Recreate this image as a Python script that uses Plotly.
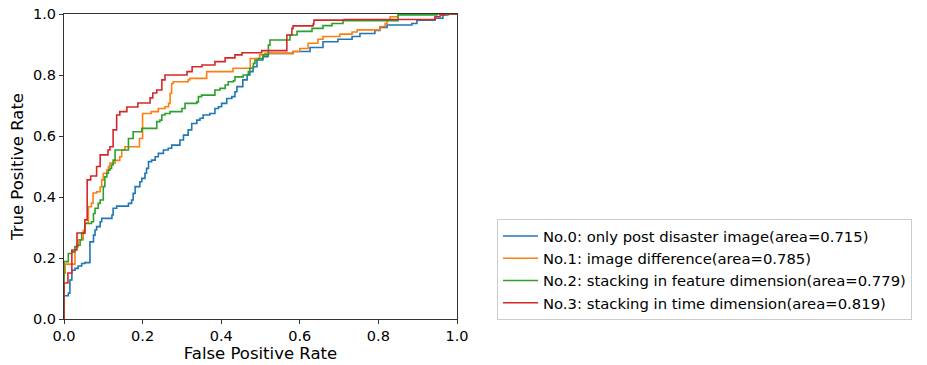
import plotly.graph_objects as go

# ROC curve points (step curves)
names = [
    "No.0: only post disaster image(area=0.715)",
    "No.1: image difference(area=0.785)",
    "No.2: stacking in feature dimension(area=0.779)",
    "No.3: stacking in time dimension(area=0.819)",
]
colors = ["#1f77b4", "#ff7f0e", "#2ca02c", "#d62728"]

fpr0 = [0, 0, 0.011, 0.015, 0.020, 0.028, 0.036, 0.045, 0.053, 0.066, 0.075, 0.079, 0.083, 0.092, 0.096,
        0.122, 0.125, 0.134, 0.164, 0.172, 0.176, 0.181, 0.193, 0.198, 0.206, 0.210, 0.215, 0.223, 0.232,
        0.240, 0.253, 0.265, 0.274, 0.295, 0.304, 0.316, 0.325, 0.338, 0.346, 0.354, 0.371, 0.384, 0.393,
        0.401, 0.414, 0.427, 0.435, 0.440, 0.455, 0.466, 0.473, 0.481, 0.491, 0.506, 0.519, 0.583, 0.626,
        0.659, 0.697, 0.733, 0.753, 0.791, 0.804, 0.822, 0.885, 0.898, 0.944, 0.964, 0.977, 1.0]
tpr0 = [0, 0.076, 0.085, 0.128, 0.160, 0.166, 0.174, 0.182, 0.185, 0.253, 0.275, 0.292, 0.303, 0.319, 0.330,
        0.341, 0.363, 0.370, 0.379, 0.390, 0.412, 0.434, 0.450, 0.461, 0.478, 0.494, 0.516, 0.521, 0.532,
        0.543, 0.554, 0.560, 0.570, 0.587, 0.603, 0.620, 0.641, 0.652, 0.658, 0.669, 0.674, 0.690, 0.696,
        0.707, 0.723, 0.729, 0.745, 0.762, 0.784, 0.800, 0.811, 0.827, 0.849, 0.860, 0.871, 0.877, 0.890,
        0.909, 0.917, 0.926, 0.936, 0.946, 0.956, 0.964, 0.969, 0.980, 0.986, 0.997, 1.0, 1.0]

fpr1 = [0, 0, 0.003, 0.028, 0.036, 0.049, 0.053, 0.062, 0.070, 0.074, 0.083, 0.092, 0.096, 0.100, 0.109,
        0.113, 0.117, 0.130, 0.142, 0.147, 0.155, 0.192, 0.200, 0.222, 0.240, 0.257, 0.266, 0.270, 0.274,
        0.278, 0.316, 0.320, 0.363, 0.430, 0.474, 0.498, 0.510, 0.583, 0.600, 0.621, 0.646, 0.659, 0.702,
        0.733, 0.746, 0.804, 0.817, 0.822, 0.830, 0.850, 1.0]
tpr1 = [0, 0.150, 0.180, 0.237, 0.260, 0.290, 0.315, 0.368, 0.380, 0.413, 0.417, 0.433, 0.456, 0.478, 0.488,
        0.500, 0.511, 0.520, 0.532, 0.554, 0.565, 0.592, 0.674, 0.680, 0.690, 0.696, 0.707, 0.740, 0.772,
        0.778, 0.784, 0.789, 0.811, 0.822, 0.854, 0.866, 0.871, 0.877, 0.887, 0.904, 0.917, 0.926, 0.934,
        0.941, 0.948, 0.959, 0.969, 0.980, 0.991, 1.0, 1.0]

fpr2 = [0, 0, 0, 0.011, 0.020, 0.028, 0.032, 0.041, 0.045, 0.053, 0.070, 0.075, 0.079, 0.087, 0.092, 0.100,
        0.104, 0.109, 0.113, 0.117, 0.121, 0.125, 0.130, 0.164, 0.176, 0.198, 0.236, 0.244, 0.249, 0.257,
        0.270, 0.300, 0.308, 0.338, 0.342, 0.350, 0.384, 0.397, 0.410, 0.418, 0.431, 0.435, 0.456, 0.469,
        0.473, 0.482, 0.486, 0.494, 0.507, 0.520, 0.524, 0.575, 0.593, 0.631, 0.659, 0.682, 0.710, 0.850,
        0.949, 1.0]
tpr2 = [0, 0.117, 0.188, 0.215, 0.220, 0.237, 0.242, 0.259, 0.281, 0.313, 0.319, 0.346, 0.363, 0.379, 0.390,
        0.434, 0.466, 0.478, 0.488, 0.494, 0.505, 0.521, 0.554, 0.592, 0.614, 0.625, 0.647, 0.652, 0.669,
        0.674, 0.680, 0.690, 0.707, 0.712, 0.729, 0.734, 0.751, 0.756, 0.767, 0.778, 0.781, 0.794, 0.800,
        0.811, 0.822, 0.838, 0.849, 0.854, 0.866, 0.898, 0.915, 0.931, 0.943, 0.953, 0.962, 0.969, 0.978,
        0.997, 1.0, 1.0]

fpr3 = [0, 0, 0, 0.010, 0.020, 0.033, 0.053, 0.059, 0.068, 0.083, 0.092, 0.112, 0.117, 0.125, 0.134, 0.142,
        0.160, 0.188, 0.219, 0.226, 0.236, 0.249, 0.257, 0.313, 0.326, 0.351, 0.384, 0.410, 0.435, 0.453,
        0.503, 0.567, 0.580, 0.583, 0.634, 0.636, 0.713, 0.944, 0.957, 0.969, 1.0]
tpr3 = [0, 0.040, 0.118, 0.151, 0.226, 0.282, 0.325, 0.456, 0.469, 0.500, 0.538, 0.554, 0.565, 0.620, 0.669,
        0.680, 0.695, 0.708, 0.725, 0.741, 0.751, 0.784, 0.800, 0.811, 0.827, 0.833, 0.844, 0.856, 0.866,
        0.873, 0.880, 0.931, 0.953, 0.961, 0.967, 0.980, 0.982, 0.991, 0.997, 1.0, 1.0]

fprs = [fpr0, fpr1, fpr2, fpr3]
tprs = [tpr0, tpr1, tpr2, tpr3]

tick_vals = [0.0, 0.2, 0.4, 0.6, 0.8, 1.0]
tick_text = ["0.0", "0.2", "0.4", "0.6", "0.8", "1.0"]

FONT = "DejaVu Sans"

fig = go.Figure()
for f, t, n, c in zip(fprs, tprs, names, colors):
    fig.add_trace(go.Scatter(x=f, y=t, mode="lines", name=n,
                             line=dict(color=c, width=1.6, shape="hv")))

axis_common = dict(
    range=[0, 1], showgrid=False, zeroline=False, showline=True, mirror=True,
    linecolor="#333333", linewidth=1, ticks="outside", ticklen=4, tickwidth=1,
    tickcolor="#333333", tickvals=tick_vals, ticktext=tick_text, automargin=False,
    ticklabeloverflow="allow",
    tickfont=dict(family=FONT, size=14.5, color="black"),
)

fig.update_layout(
    width=927, height=365,
    margin=dict(l=64, r=470, t=14, b=46, autoexpand=False),
    paper_bgcolor="white", plot_bgcolor="white",
    font=dict(family=FONT, color="black"),
    xaxis=dict(**axis_common,
               title=dict(text="False Positive Rate", font=dict(family=FONT, size=16.5), standoff=2)),
    yaxis=dict(**axis_common,
               title=dict(text="True Positive Rate", font=dict(family=FONT, size=16.5), standoff=5)),
    legend=dict(x=1.1018, y=-0.003, xanchor="left", yanchor="bottom",
                bordercolor="#cccccc", borderwidth=1, bgcolor="white",
                itemwidth=35,
                font=dict(family=FONT, size=14.8)),
    showlegend=True,
)

# remove the default page margin so the figure sits at the window's top-left corner
fig.write_html("out.html", config={"displayModeBar": False},
               post_script="document.body.style.margin='0';")
